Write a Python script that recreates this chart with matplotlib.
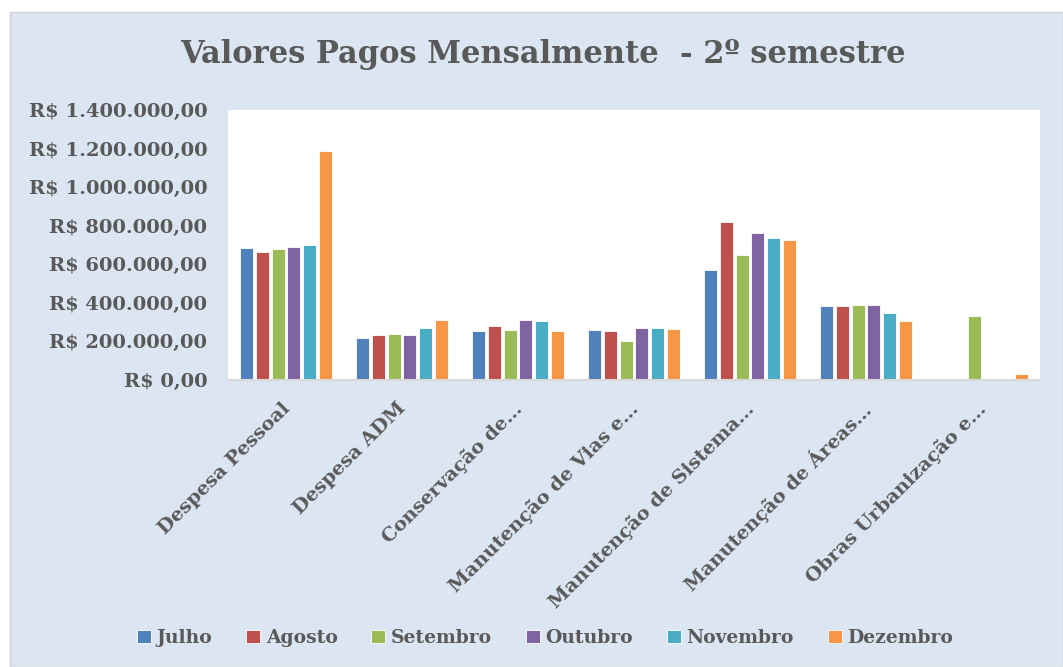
import matplotlib
matplotlib.use("Agg")
from matplotlib import pyplot as plt
from matplotlib.patches import Rectangle
import matplotlib.transforms as mtransforms
import numpy as np

categories = ["Despesa Pessoal", "Despesa ADM", "Conservação de…",
              "Manutenção de Vias e…", "Manutenção de Sistema…",
              "Manutenção de Áreas…", "Obras Urbanização e…"]
months = ["Julho", "Agosto", "Setembro", "Outubro", "Novembro", "Dezembro"]

julho = [682000, 217000, 252000, 257000, 569000, 383000, 0]
agosto = [664000, 229000, 280000, 252000, 818000, 383000, 0]
setembro = [678000, 235000, 257000, 200000, 647000, 387000, 330000]
outubro = [688000, 231000, 309000, 269000, 761000, 387000, 0]
novembro = [697000, 268000, 304000, 268000, 737000, 347000, 0]
dezembro = [1185000, 311000, 252000, 261000, 725000, 306000, 28000]

colors = ["#4F81BD", "#C0504D", "#9BBB59", "#8064A2", "#4BACC6", "#F79646"]
txt = "#595959"
font = "DejaVu Serif"

fig = plt.figure(figsize=(10.63, 6.67), dpi=100)
fig.patch.set_facecolor("white")
# chart area background
fig.patches.append(Rectangle((10 / 1063, 0), 1 - 10 / 1063, (667 - 12) / 667,
                             transform=fig.transFigure, facecolor="#dce6f2",
                             edgecolor="#d0d0d0", lw=1, zorder=-10))

ax = fig.add_axes([228 / 1063, (667 - 379.5) / 667, 812 / 1063, 269.5 / 667])
ax.set_facecolor("white")

series = [julho, agosto, setembro, outubro, novembro, dezembro]
x = np.arange(len(categories))
slot = 0.135
for i, (vals, name) in enumerate(zip(series, months)):
    ax.bar(x + (i - 2.5) * slot, vals, width=slot * 0.82, color=colors[i],
           edgecolor="white", linewidth=0.6, label=name, zorder=2)

ax.set_xlim(-0.5, len(categories) - 0.5)
ax.set_ylim(0, 1400000)
yt = np.arange(0, 1400001, 200000)
ax.set_yticks(yt)
ax.set_yticklabels(["R$ " + f"{v:,.2f}".replace(",", "X").replace(".", ",").replace("X", ".")
                    for v in yt], fontfamily=font, fontweight="bold",
                   fontsize=14, color=txt)
ax.set_xticks(x)
ax.set_xticklabels(categories, rotation=45, ha="right", rotation_mode="anchor",
                   fontfamily=font, fontweight="bold", fontsize=14, color=txt)
ax.tick_params(axis="y", length=0, pad=15)
ax.tick_params(axis="x", length=0, pad=14)
shift = mtransforms.ScaledTranslation(-5 / 100, 0, fig.dpi_scale_trans)
for lab in ax.get_xticklabels():
    lab.set_transform(lab.get_transform() + shift)
for s in ["top", "left", "right"]:
    ax.spines[s].set_visible(False)
ax.spines["bottom"].set_color("#d9d9d9")
ax.spines["bottom"].set_linewidth(1.5)

fig.text(543 / 1063, 1 - 55 / 667, "Valores Pagos Mensalmente  - 2º semestre",
         ha="center", va="center", fontfamily=font, fontweight="bold",
         fontsize=22, color=txt)

fig.legend(loc="center", bbox_to_anchor=(545 / 1063, 1 - 638 / 667), ncol=6,
           frameon=False, handlelength=0.75, handleheight=0.75, handletextpad=0.3,
           columnspacing=1.8, prop={"family": font, "weight": "bold", "size": 13.5},
           labelcolor=txt)

fig.savefig("out.png", dpi=100)
